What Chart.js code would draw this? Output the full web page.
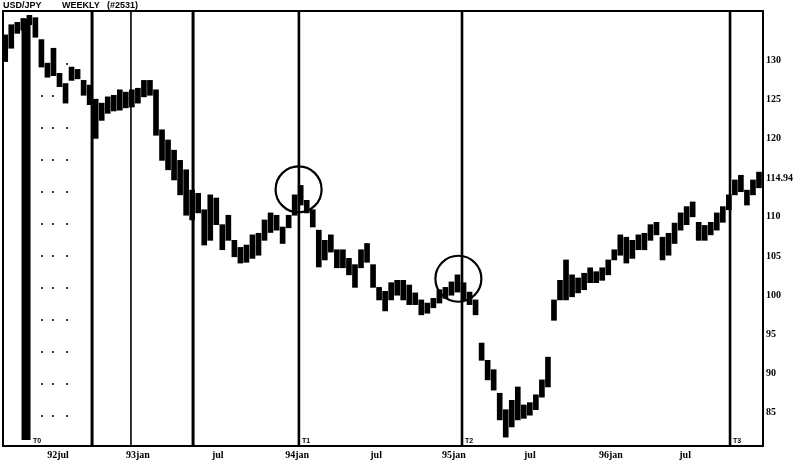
<!DOCTYPE html>
<html>
<head>
<meta charset="utf-8">
<script src="https://cdn.jsdelivr.net/npm/chart.js@4.4.1/dist/chart.umd.min.js"></script>
<style>
  body { margin: 0; background: #fff; }
  canvas { display: block; }
</style>
</head>
<body>
<canvas id="chart" width="797" height="462"></canvas>
<script>
// x axis is in weeks, counted from 92jul
const xLabels = ['92jul', '93jan', 'jul', '94jan', 'jul', '95jan', 'jul', '96jan', 'jul'];
const xTickWeeks = [0, 26.5, 53, 79.3, 105.5, 131.3, 156.5, 183.4, 208];
const yTickValues = [85, 90, 95, 100, 105, 110, 114.94, 120, 125, 130];
const lastPrice = 114.94;

// one bar every two weeks, starting at week -17.5
const firstWeek = -17.5;
const lows = [
    129.8, 131.5, 133.4, 133.8, 134.5, 132.9, 129.1, 127.8, 128.0, 126.6,
    124.5, 127.4, 127.6, 125.5, 124.3, 120.0, 122.3, 123.2, 123.5, 123.6,
    123.9, 124.0, 124.5, 125.3, 125.5, 120.4, 117.2, 116.0, 114.7, 112.8,
    110.2, 109.6, 110.5, 106.4, 107.0, 109.0, 105.8, 107.0, 104.9, 104.1,
    104.2, 104.7, 105.1, 107.0, 108.0, 108.3, 106.6, 108.6, 110.2, 111.5,
    110.5, 108.7, 103.6, 104.5, 105.5, 103.5, 103.5, 102.6, 101.0, 103.5,
    104.2, 101.0, 99.4, 98.0, 99.4, 100.0, 99.4, 98.8, 98.8, 97.5,
    97.7, 98.4, 99.0, 99.6, 100.0, 100.4, 99.4, 98.8, 97.5, 91.7,
    89.2, 87.9, 84.1, 81.9, 83.2, 84.1, 84.3, 84.7, 85.4, 87.0,
    88.3, 96.8, 99.4, 99.4, 99.8, 100.3, 100.7, 101.6, 101.6, 101.9,
    102.6, 104.5, 105.1, 104.1, 104.7, 105.8, 105.8, 107.0, 107.7, 104.5,
    105.1, 106.6, 108.3, 109.0, 110.0, 107.0, 107.0, 107.7, 108.3, 109.3,
    110.9, 112.8, 113.2, 111.5, 112.8, 113.7, 114.3
];
const highs = [
    133.2, 134.5, 134.8, 135.3, 135.7, 135.4, 132.6, 129.6, 131.5, 128.3,
    127.0, 129.1, 128.8, 127.4, 126.8, 125.0, 124.5, 125.3, 125.5, 126.2,
    125.9, 126.2, 126.4, 127.4, 127.4, 126.2, 121.1, 119.8, 118.5, 117.2,
    116.0, 113.4, 113.0, 110.9, 112.8, 112.4, 109.0, 110.2, 107.0, 106.1,
    106.4, 107.7, 107.9, 109.6, 110.5, 110.2, 108.7, 110.2, 112.8, 114.0,
    112.1, 110.9, 108.3, 107.0, 107.7, 105.8, 105.8, 104.7, 103.9, 105.8,
    106.6, 103.9, 101.0, 100.5, 101.6, 101.9, 101.9, 101.3, 100.3, 99.4,
    99.0, 99.6, 100.7, 101.0, 101.7, 102.6, 101.6, 100.4, 99.4, 93.9,
    91.7, 90.5, 87.5, 85.4, 86.6, 88.3, 86.0, 86.3, 87.3, 89.2,
    92.1, 99.4, 101.9, 104.5, 102.6, 102.2, 102.8, 103.5, 103.0, 103.5,
    104.5, 105.8, 107.7, 107.4, 107.0, 107.7, 107.9, 109.0, 109.3, 107.4,
    107.9, 109.2, 110.5, 111.3, 111.9, 109.3, 108.9, 109.3, 110.5, 111.3,
    112.8, 114.7, 115.3, 113.4, 114.7, 115.7, 116.2
];

// marked turning points and other vertical markers (weeks)
const turnWeeks = [-10.6, 79.9, 134, 222.9];
const turnLabels = ['T0', 'T1', 'T2', 'T3'];
const heavyLineWeeks = [11.3, 44.8];
const lightLineWeeks = [24.2];
const dottedLineWeeks = [-5.3, -1.7, 3];
const circleWeeks = [79.8, 132.8];
const circlePrices = [113.5, 102.1];

const barData = lows.map((lo, i) => ({ x: firstWeek + 2 * i, y: [lo, highs[i]] }));

const overlay = {
    id: 'overlay',
    afterDatasetsDraw(chart) {
        const { ctx, chartArea: a, scales: { x, y } } = chart;
        ctx.save();
        ctx.strokeStyle = '#000';
        ctx.fillStyle = '#000';

        const vline = (w, width, dash, top, bottom) => {
            const px = x.getPixelForValue(w);
            ctx.lineWidth = width;
            ctx.setLineDash(dash || []);
            ctx.beginPath();
            ctx.moveTo(px, top);
            ctx.lineTo(px, bottom);
            ctx.stroke();
        };

        heavyLineWeeks.forEach(w => vline(w, 3, null, a.top, a.bottom));
        lightLineWeeks.forEach(w => vline(w, 1.6, null, a.top, a.bottom));
        dottedLineWeeks.forEach(w => vline(w, 1.5, [2, 30], a.top + 52, a.bottom));

        // T0 is a thick block, the others thin lines
        turnWeeks.forEach((w, i) => {
            if (i === 0) vline(w, 9, null, a.top + 8, a.bottom - 6);
            else vline(w, 2.6, null, a.top, a.bottom);
        });
        ctx.setLineDash([]);

        ctx.font = 'bold 7px "Liberation Sans"';
        ctx.textBaseline = 'bottom';
        ctx.textAlign = 'left';
        turnWeeks.forEach((w, i) => {
            const off = i === 0 ? 7 : 3;
            ctx.fillText(turnLabels[i], x.getPixelForValue(w) + off, a.bottom - 1);
        });

        ctx.lineWidth = 2.2;
        circleWeeks.forEach((w, i) => {
            ctx.beginPath();
            ctx.arc(x.getPixelForValue(w), y.getPixelForValue(circlePrices[i]), 23, 0, Math.PI * 2);
            ctx.stroke();
        });

        ctx.lineWidth = 2;
        ctx.strokeRect(a.left, a.top, a.right - a.left, a.bottom - a.top);
        ctx.restore();
    },
    afterDraw(chart) {
        const { ctx } = chart;
        ctx.save();
        ctx.fillStyle = '#000';
        ctx.font = 'bold 9px "Liberation Sans"';
        ctx.textBaseline = 'top';
        ctx.fillText('USD/JPY', 3, 1);
        ctx.fillText('WEEKLY', 62, 1);
        ctx.fillText('(#2531)', 107, 1);
        ctx.restore();
    }
};

new Chart(document.getElementById('chart').getContext('2d'), {
    type: 'bar',
    data: {
        datasets: [{
            data: barData,
            backgroundColor: '#000',
            borderWidth: 0,
            barThickness: 5
        }]
    },
    options: {
        responsive: false,
        animation: false,
        layout: { padding: { left: 3, top: 11, right: 0, bottom: 0 } },
        plugins: { legend: { display: false }, tooltip: { enabled: false } },
        scales: {
            x: {
                type: 'linear',
                offset: false,
                min: -18.24,
                max: 233.83,
                grid: { display: false, drawTicks: false, tickLength: 0 },
                border: { display: false },
                afterBuildTicks: (scale) => { scale.ticks = xTickWeeks.map(v => ({ value: v })); },
                afterFit: (scale) => { scale.height = 16; },
                ticks: {
                    autoSkip: false,
                    maxRotation: 0,
                    padding: 3,
                    color: '#000',
                    font: { family: 'Liberation Serif', size: 10, weight: 'bold' },
                    callback: (v, i) => xLabels[i]
                }
            },
            y: {
                position: 'right',
                min: 80.77,
                max: 136.25,
                grid: { display: false, drawTicks: false, tickLength: 0 },
                border: { display: false },
                afterBuildTicks: (scale) => { scale.ticks = yTickValues.map(v => ({ value: v })); },
                afterFit: (scale) => { scale.width = 34; },
                ticks: {
                    autoSkip: false,
                    padding: 3,
                    color: '#000',
                    font: { family: 'Liberation Serif', size: 10, weight: 'bold' },
                    callback: (v) => v === lastPrice ? '114.94' : v
                }
            }
        }
    },
    plugins: [overlay]
});
</script>
</body>
</html>
